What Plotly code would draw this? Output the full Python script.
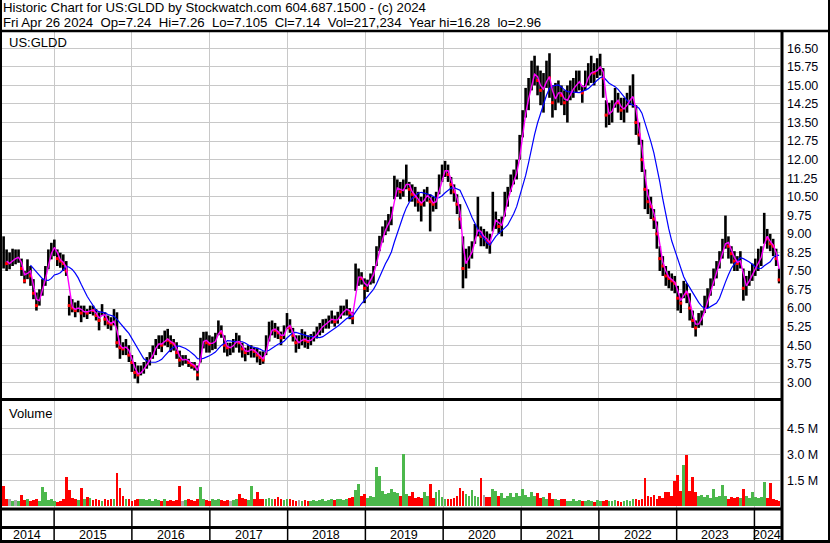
import pandas as pd
import plotly.graph_objects as go

# ---------------- data (bi-weekly) ----------------
dates = pd.date_range(end="2024-04-26", periods=261, freq="14D")

close = [
 8.0, 7.8, 7.8, 8.0, 8.0, 8.1, 7.6, 7.1, 7.7, 7.3, 6.6, 6.1, 6.5, 6.9, 7.4, 8.0, 8.4, 8.5, 8.0, 7.9,
 7.8, 7.5, 6.1, 6.0, 5.9, 6.1, 5.8, 5.9, 5.8, 5.95, 5.9, 5.7, 5.5, 5.9, 5.55, 5.4, 5.35, 5.6, 4.6, 4.4,
 4.35, 4.5, 4.1, 3.8, 3.4, 3.3, 3.45, 3.6, 3.8, 3.9, 4.25, 4.5, 4.6, 4.5, 4.8, 4.7, 4.6, 4.55, 4.2, 3.9,
 3.9, 3.95, 3.8, 3.7, 3.65, 3.3, 4.5, 4.8, 4.6, 4.55, 4.6, 4.7, 5.2, 5.0, 4.5, 4.4, 4.4, 4.55, 4.7, 4.6,
 4.35, 4.2, 4.3, 4.35, 4.25, 4.1, 4.0, 3.9, 4.5, 5.0, 5.2, 5.1, 5.0, 4.8, 5.0, 5.4, 5.2, 4.9, 4.6, 4.6,
 4.8, 4.7, 4.65, 4.75, 4.85, 5.0, 5.2, 5.3, 5.4, 5.5, 5.6, 5.45, 5.6, 5.8, 5.9, 6.0, 5.8, 5.6, 7.2, 7.3,
 7.2, 6.8, 7.0, 7.2, 7.5, 8.1, 8.5, 9.0, 9.3, 9.5, 9.8, 10.8, 10.9, 10.7, 10.8, 11.2, 10.8, 10.6, 10.5, 10.3,
 10.2, 10.5, 10.6, 10.3, 10.2, 10.4, 11.0, 11.4, 11.7, 11.4, 11.0, 10.7, 10.2, 9.6, 7.6, 8.0, 8.1, 8.4, 9.0, 9.3,
 8.9, 8.9, 8.7, 8.6, 9.5, 9.6, 9.3, 9.4, 10.2, 10.5, 11.0, 11.3, 11.6, 12.5, 13.4, 14.3, 14.6, 15.4, 15.5, 15.2,
 14.8, 14.9, 15.4, 15.3, 14.3, 14.6, 14.8, 14.6, 14.3, 14.5, 14.8, 14.9, 15.1, 15.2, 14.7, 15.2, 15.4, 15.6, 15.5, 15.7,
 15.8, 15.3, 13.8, 13.9, 14.0, 14.5, 14.3, 14.0, 14.1, 14.3, 14.5, 14.6, 13.5, 13.0, 12.0, 10.8, 10.3, 10.1, 9.6, 9.0,
 8.0, 7.7, 7.3, 7.2, 7.1, 7.0, 6.4, 6.2, 6.8, 6.6, 6.0, 5.5, 5.2, 5.5, 5.6, 6.1, 6.4, 6.9, 7.2, 7.6,
 8.0, 8.4, 8.8, 8.5, 8.2, 7.9, 7.8, 8.0, 6.8, 7.0, 7.2, 7.5, 7.7, 8.0, 8.1, 9.0, 8.8, 8.6, 8.5, 8.0,
 7.14,
]

high = [
 8.9, 8.37, 8.25, 8.4, 8.37, 8.37, 8.0, 7.5, 7.97, 7.7, 7.17, 6.63, 6.76, 7.17, 7.7, 8.37, 8.64, 8.77, 8.37, 8.24,
 8.17, 7.9, 6.5, 6.36, 6.23, 6.3, 6.1, 6.1, 5.96, 6.1, 6.1, 5.96, 5.83, 6.16, 5.83, 5.7, 5.63, 5.96, 5.83, 4.9,
 4.62, 4.75, 4.5, 4.1, 3.82, 3.68, 3.68, 3.82, 4.02, 4.22, 4.49, 4.75, 4.9, 4.9, 5.09, 5.16, 4.9, 4.75, 4.62, 4.28,
 4.1, 4.1, 3.95, 3.82, 3.82, 3.68, 4.8, 5.04, 5.05, 4.9, 4.85, 5.0, 5.5, 5.3, 4.9, 4.6, 4.6, 4.75, 5.0, 4.9,
 4.6, 4.4, 4.5, 4.5, 4.4, 4.4, 4.25, 4.25, 4.9, 5.45, 5.5, 5.4, 5.25, 5.05, 5.3, 5.8, 5.55, 5.2, 4.9, 4.9,
 5.15, 5.05, 4.9, 4.95, 5.05, 5.25, 5.4, 5.55, 5.57, 5.7, 5.9, 5.7, 5.85, 6.1, 6.1, 6.35, 6.0, 5.85, 7.8, 7.6,
 7.45, 7.2, 7.15, 7.4, 7.7, 8.5, 8.92, 9.3, 9.55, 9.8, 10.1, 11.35, 11.2, 11.1, 11.2, 11.8, 11.1, 11.0, 10.9, 10.7,
 10.5, 10.8, 10.9, 10.6, 10.5, 10.7, 11.4, 11.8, 11.95, 11.8, 11.3, 11.0, 10.6, 10.2, 8.9, 8.4, 8.5, 8.7, 9.4, 10.5,
 9.3, 9.2, 9.1, 9.0, 10.7, 9.9, 9.6, 9.7, 10.7, 10.9, 11.4, 11.6, 12.0, 13.0, 14.0, 14.9, 15.3, 16.0, 16.2, 15.8,
 15.6, 15.5, 16.0, 16.3, 15.0, 15.1, 15.2, 15.0, 14.8, 15.0, 15.2, 15.3, 15.6, 15.6, 15.0, 15.6, 15.9, 16.2, 15.9, 16.1,
 16.28, 15.7, 14.4, 14.3, 14.4, 14.9, 14.7, 14.5, 14.5, 14.7, 15.0, 15.45, 14.2, 13.5, 12.8, 11.6, 10.8, 10.5, 10.0, 9.5,
 8.5, 8.1, 7.7, 7.5, 7.4, 7.3, 6.9, 6.6, 7.1, 7.0, 6.6, 5.9, 5.5, 5.8, 5.9, 6.5, 6.8, 7.2, 7.6, 7.9,
 8.3, 8.8, 9.74, 8.9, 8.5, 8.3, 8.1, 8.3, 7.6, 7.3, 7.5, 7.8, 8.0, 8.4, 8.5, 9.85, 9.2, 9.0, 8.8, 8.4,
 7.6,
]

low = [
 7.6, 7.5, 7.57, 7.7, 7.77, 7.83, 7.3, 7.0, 7.17, 6.9, 6.36, 5.9, 6.1, 6.5, 6.9, 7.57, 7.97, 8.1, 7.7, 7.63,
 7.5, 7.3, 5.7, 5.83, 5.63, 5.83, 5.43, 5.63, 5.56, 5.76, 5.7, 5.5, 5.1, 5.7, 5.3, 5.16, 5.1, 5.3, 4.4, 3.95,
 4.1, 4.1, 3.82, 3.42, 3.15, 2.96, 3.28, 3.35, 3.55, 3.68, 3.95, 4.1, 4.35, 4.22, 4.49, 4.42, 4.22, 4.28, 3.95, 3.62,
 3.68, 3.75, 3.62, 3.55, 3.48, 3.08, 3.8, 4.37, 4.2, 4.2, 4.3, 4.35, 4.9, 4.8, 4.2, 4.05, 4.1, 4.2, 4.4, 4.2,
 4.0, 3.85, 4.1, 4.0, 4.0, 3.8, 3.7, 3.75, 4.1, 4.65, 4.9, 4.8, 4.75, 4.5, 4.75, 5.15, 5.0, 4.65, 4.2, 4.35,
 4.5, 4.4, 4.35, 4.5, 4.65, 4.77, 4.9, 5.0, 5.17, 5.17, 5.37, 5.25, 5.37, 5.57, 5.7, 5.7, 5.55, 5.35, 6.7, 6.9,
 6.95, 6.2, 6.65, 6.95, 7.0, 7.7, 8.3, 8.65, 8.95, 9.1, 9.35, 10.4, 10.5, 10.4, 10.5, 10.8, 10.3, 10.3, 10.1, 9.9,
 9.5, 10.1, 10.3, 9.1, 9.9, 10.0, 10.6, 11.1, 11.3, 11.1, 10.6, 10.3, 9.8, 9.2, 6.8, 7.2, 7.6, 8.0, 8.6, 8.9,
 8.5, 8.5, 8.4, 8.2, 9.1, 9.2, 9.0, 8.9, 9.7, 10.1, 10.7, 11.0, 11.2, 12.0, 12.9, 13.7, 14.0, 14.8, 15.0, 14.6,
 14.2, 13.9, 14.9, 14.5, 13.7, 14.0, 14.3, 14.2, 13.8, 13.5, 14.4, 14.5, 14.7, 14.8, 14.3, 14.8, 15.0, 15.1, 15.0, 15.3,
 15.4, 14.5, 13.3, 13.4, 13.5, 14.1, 13.9, 13.6, 13.5, 13.9, 14.2, 14.1, 13.0, 12.6, 11.5, 10.0, 9.8, 9.6, 9.2, 8.4,
 7.5, 7.3, 6.9, 6.8, 6.7, 6.6, 5.9, 5.8, 6.4, 6.2, 5.5, 5.2, 4.85, 5.2, 5.3, 5.8, 6.0, 6.5, 6.9, 7.2,
 7.6, 8.0, 8.4, 8.0, 7.8, 7.5, 7.5, 7.6, 6.3, 6.5, 6.9, 7.1, 7.3, 7.5, 7.7, 8.6, 8.4, 8.3, 8.1, 7.7,
 7.0,
]

volume_m = [
 1.2, 0.45, 0.4, 0.3, 0.35, 0.3, 0.65, 0.35, 0.4, 0.3, 0.35, 0.4, 0.3, 1.1, 0.8, 0.35, 0.4, 0.3, 0.25, 0.3,
 0.45, 1.7, 0.95, 0.5, 0.4, 0.35, 1.05, 0.45, 0.55, 0.5, 0.35, 0.4, 0.35, 0.3, 0.4, 0.35, 0.45, 0.4, 1.95, 1.05,
 0.6, 0.4, 0.45, 0.3, 0.35, 0.4, 0.45, 0.4, 0.35, 0.45, 0.3, 0.4, 0.35, 0.3, 0.4, 0.3, 0.35, 0.3, 0.35, 1.15,
 0.3, 0.35, 0.4, 0.35, 0.3, 0.4, 1.1, 0.4, 0.35, 0.3, 0.4, 0.35, 0.45, 0.35, 0.3, 0.35, 0.3, 0.35, 0.4, 0.7,
 0.5, 0.4, 0.35, 1.15, 0.45, 0.8, 0.45, 0.4, 0.45, 0.5, 0.45, 0.4, 0.55, 0.4, 0.35, 0.4, 0.45, 0.35, 0.3, 0.35,
 0.3, 0.35, 0.3, 0.3, 0.35, 0.3, 0.35, 0.45, 0.3, 0.35, 0.4, 0.35, 0.4, 0.45, 0.35, 0.45, 0.5, 0.55, 0.95, 1.3,
 0.6, 0.7, 0.5, 0.6, 0.55, 2.25, 1.75, 0.9, 0.7, 0.75, 1.0, 0.8, 0.75, 0.6, 3.0, 0.7, 0.6, 0.85, 0.5, 0.55,
 0.5, 0.8, 0.6, 1.3, 0.5, 0.85, 0.95, 0.55, 0.4, 0.45, 0.4, 0.5, 0.6, 1.05, 0.9, 0.7, 0.6, 0.95, 0.6, 0.55,
 1.65, 0.65, 0.55, 0.55, 1.0, 0.9, 0.6, 0.75, 0.5, 0.6, 0.75, 0.55, 0.75, 0.6, 1.0, 0.65, 0.55, 0.85, 0.6, 0.75,
 0.5, 0.55, 0.45, 0.75, 0.45, 0.4, 0.35, 0.45, 0.4, 0.3, 0.3, 0.45, 0.3, 0.35, 0.3, 0.3, 0.35, 0.3, 0.25, 0.35,
 0.3, 0.3, 0.35, 0.3, 0.3, 0.35, 0.3, 0.25, 0.3, 0.35, 0.3, 0.45, 0.4, 0.35, 0.4, 1.65, 0.6, 0.55, 0.65, 0.45,
 0.6, 0.5, 0.85, 0.8, 0.6, 1.45, 1.8, 0.9, 2.4, 2.95, 0.9, 1.7, 0.85, 0.6, 0.65, 0.55, 0.65, 0.5, 1.0, 0.55,
 0.6, 1.25, 0.6, 0.45, 0.55, 0.5, 0.55, 0.5, 1.0, 0.6, 0.5, 0.85, 0.55, 0.5, 0.55, 1.4, 0.5, 1.35, 0.4, 0.35,
 0.3,
]

price_tick_vals = [3.00, 3.75, 4.50, 5.25, 6.00, 6.75, 7.50, 8.25, 9.00, 9.75,
                   10.50, 11.25, 12.00, 12.75, 13.50, 14.25, 15.00, 15.75, 16.50]
price_tick_text = ["3.00", "3.75", "4.50", "5.25", "6.00", "6.75", "7.50", "8.25", "9.00", "9.75",
                   "10.50", "11.25", "12.00", "12.75", "13.50", "14.25", "15.00", "15.75", "16.50"]
vol_tick_vals = [1.5e6, 3.0e6, 4.5e6]
vol_tick_text = ["1.5 M", "3.0 M", "4.5 M"]
year_starts = ["2015-01-01", "2016-01-01", "2017-01-01", "2018-01-01", "2019-01-01",
               "2020-01-01", "2021-01-01", "2022-01-01", "2023-01-01", "2024-01-01"]
year_labels = ["2014", "2015", "2016", "2017", "2018", "2019", "2020", "2021", "2022", "2023", "2024"]
year_label_pos = ["2014-08-28", "2015-07-02", "2016-07-02", "2017-07-02", "2018-07-02", "2019-07-02",
                  "2020-07-02", "2021-07-02", "2022-07-02", "2023-07-02", "2024-03-01"]

header1 = "Historic Chart for US:GLDD by Stockwatch.com 604.687.1500 - (c) 2024"
header2 = ("Fri Apr 26 2024\u00a0\u00a0Op=7.24\u00a0\u00a0Hi=7.26\u00a0\u00a0Lo=7.105\u00a0\u00a0Cl=7.14"
           "\u00a0\u00a0Vol=217,234\u00a0\u00a0Year hi=16.28\u00a0\u00a0lo=2.96")

# ---------------- figure geometry (pixels) ----------------
W, H = 830, 543
PL, PR, PT, PB = 0, 780, 32, 508   # plot area in pixels


def fx(px):
    return (px - PL) / (PR - PL)


def fy(py):
    return (PB - py) / (PB - PT)


FONT = "Arial, 'Liberation Sans', sans-serif"

# ---------------- traces ----------------
bx, by = [], []
for d, h, l in zip(dates, high, low):
    bx += [d, d, None]
    by += [l, h, None]

cs = pd.Series(close)
ma_short = cs.rolling(2).mean()
ma_long = cs.rolling(10).mean()

down_x = [d for k, d in enumerate(dates) if k > 0 and close[k] < close[k - 1]]
down_y = [close[k] for k in range(len(close)) if k > 0 and close[k] < close[k - 1]]

vol_colors = []
for k, c in enumerate(close):
    if k == 0:
        vol_colors.append("#FF0000")
    elif c > close[k - 1]:
        vol_colors.append("#4CB84C")
    elif c < close[k - 1]:
        vol_colors.append("#FF0000")
    else:
        vol_colors.append("#A8A8A8")

fig = go.Figure()
fig.add_trace(go.Scatter(x=bx, y=by, mode="lines", line=dict(color="black", width=2.6),
                         xaxis="x", yaxis="y", hoverinfo="skip", showlegend=False))
fig.add_trace(go.Scatter(x=down_x, y=down_y, mode="markers",
                         marker=dict(color="#FF0000", size=3, symbol="square", line=dict(width=0)),
                         xaxis="x", yaxis="y", hoverinfo="skip", showlegend=False))
fig.add_trace(go.Scatter(x=dates, y=ma_long, mode="lines", line=dict(color="#0000FF", width=1.2),
                         xaxis="x", yaxis="y", showlegend=False))
fig.add_trace(go.Scatter(x=dates, y=ma_short, mode="lines", line=dict(color="#FF00FF", width=1.4),
                         xaxis="x", yaxis="y", showlegend=False))
fig.add_trace(go.Bar(x=dates, y=[v * 1e6 for v in volume_m], marker=dict(color=vol_colors, line=dict(width=0)),
                     width=1.1e9, xaxis="x2", yaxis="y2", showlegend=False))

# ---------------- layout ----------------
grid = "#C8C8C8"
xr = ["2014-04-22", "2024-04-30"]
price_dom = [fy(398), 1]
vol_dom = [0, fy(401)]

fig.update_layout(
    width=W, height=H,
    margin=dict(l=PL, r=W - PR, t=PT, b=H - PB, pad=0),
    paper_bgcolor="white", plot_bgcolor="white",
    font=dict(family=FONT, color="black", size=12),
    bargap=0,
    xaxis=dict(domain=[0, 1], anchor="y", range=xr, type="date", tickvals=year_starts,
               showticklabels=False, ticks="", showgrid=True, gridcolor=grid, gridwidth=1,
               zeroline=False, showline=False),
    xaxis2=dict(domain=[0, 1], anchor="y2", matches="x", range=xr, type="date", tickvals=year_starts,
                showticklabels=False, ticks="", showgrid=True, gridcolor=grid, gridwidth=1,
                zeroline=False, showline=False),
    yaxis=dict(domain=price_dom, anchor="x", side="right", range=[2.366, 17.159],
               tickvals=price_tick_vals, ticktext=price_tick_text, ticks="",
               ticklabelstandoff=6, tickfont=dict(size=12.5, family=FONT, color="#000010"),
               showgrid=True, gridcolor=grid, gridwidth=1, zeroline=False, showline=False),
    yaxis2=dict(domain=vol_dom, anchor="x2", side="right", range=[-0.098e6, 6.075e6],
                tickvals=vol_tick_vals, ticktext=vol_tick_text, ticks="",
                ticklabelstandoff=6, tickfont=dict(size=12.5, family=FONT, color="#000010"),
                showgrid=True, gridcolor=grid, gridwidth=1, zeroline=False, showline=False),
    hovermode=False,
)

shapes = []


def hline(y, x0, x1, w, color="black"):
    shapes.append(dict(type="line", xref="paper", yref="paper", x0=fx(x0), x1=fx(x1),
                       y0=fy(y), y1=fy(y), line=dict(color=color, width=w), layer="above"))


def vline(x, y0, y1, w, color="black"):
    shapes.append(dict(type="line", xref="paper", yref="paper", x0=fx(x), x1=fx(x),
                       y0=fy(y0), y1=fy(y1), line=dict(color=color, width=w), layer="above"))


hline(31, 0, 830, 2.5)          # header bottom
hline(399.5, 0, 782, 3)          # price / volume separator
hline(509, 0, 782, 3)            # volume bottom
hline(527.5, 0, 782, 3)          # strip separator
hline(541.5, 0, 830, 3)          # bottom border
vline(782, 31, 543, 3)           # right axis line
vline(1, 0, 543, 2)              # left border
vline(829, 0, 543, 2)            # right border

for ys in year_starts:
    shapes.append(dict(type="line", xref="x", yref="paper", x0=ys, x1=ys,
                       y0=fy(510), y1=fy(541), line=dict(color="black", width=1.5), layer="above"))

fig.update_layout(shapes=shapes)

ann = []
ann.append(dict(xref="paper", yref="paper", x=fx(1), y=fy(8), text=header1, showarrow=False,
                xanchor="left", yanchor="middle", font=dict(size=13.2, family=FONT, color="black")))
ann.append(dict(xref="paper", yref="paper", x=fx(1), y=fy(22), text=header2, showarrow=False,
                xanchor="left", yanchor="middle", font=dict(size=13.2, family=FONT, color="black")))
ann.append(dict(xref="paper", yref="paper", x=fx(7), y=fy(42), text="US:GLDD", showarrow=False,
                xanchor="left", yanchor="middle", font=dict(size=13, family=FONT, color="black")))
ann.append(dict(xref="paper", yref="paper", x=fx(7), y=fy(413), text="Volume", showarrow=False,
                xanchor="left", yanchor="middle", font=dict(size=13, family=FONT, color="black")))
for lab, pos in zip(year_labels, year_label_pos):
    ann.append(dict(xref="x", yref="paper", x=pos, y=fy(535), text=lab, showarrow=False,
                    xanchor="center", yanchor="middle", font=dict(size=12.5, family=FONT, color="black")))
fig.update_layout(annotations=ann)

fig.write_html("out.html", config={"displayModeBar": False, "staticPlot": True},
               post_script="document.body.style.margin='0';document.body.style.overflow='hidden';")
